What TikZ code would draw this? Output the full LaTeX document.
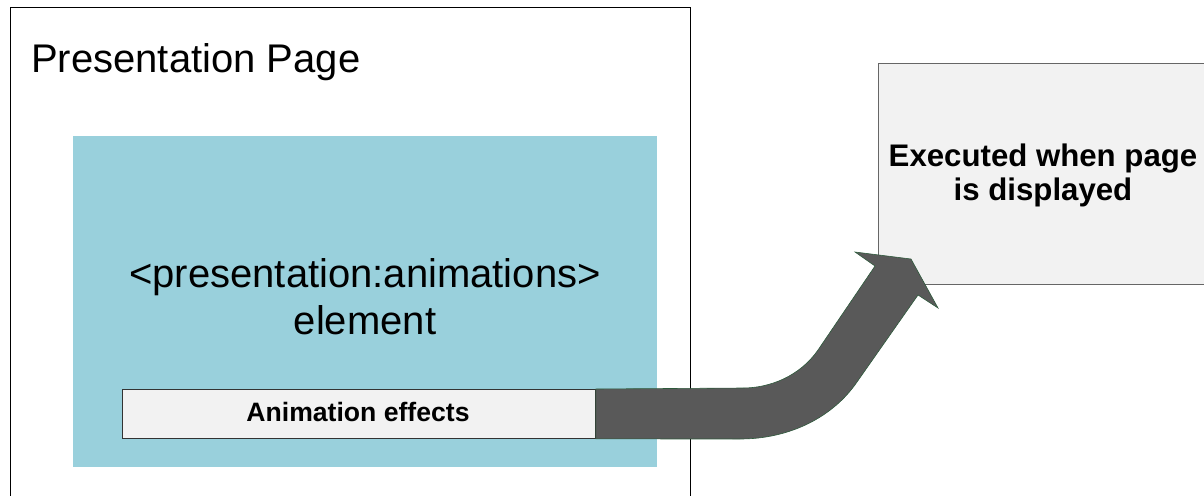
\documentclass[tikz,border=0pt]{standalone}
\usepackage{fontspec}
\setmainfont{Liberation Sans}
\definecolor{teal1}{HTML}{99D0DC}
\definecolor{boxgray}{HTML}{F2F2F2}
\definecolor{arrowgray}{HTML}{595959}
\definecolor{arrowedge}{HTML}{2E5A3C}
\tikzset{
  plain/.style={draw=black, line width=0.8pt},
  graybox/.style={fill=boxgray, draw=#1, line width=0.9pt},
  bigtxt/.style={font=\fontsize{40}{46}\selectfont, inner sep=0pt},
  midtxt/.style={font=\fontsize{31.2}{34}\selectfont\bfseries, inner sep=0pt},
  smalltxt/.style={font=\fontsize{26.6}{30}\selectfont\bfseries, inner sep=0pt},
  bigarrow/.style={fill=arrowgray, draw=arrowedge, line width=0.6pt},
}
\begin{document}
\begin{tikzpicture}[x=1pt,y=-1pt]
\useasboundingbox (0,0) rectangle (1204,495);
% outer page
\draw[plain] (10,520) -- (10,7) -- (690,7) -- (690,520);
\node[bigtxt, anchor=base west] (title) at (31,73) {Presentation Page};
% teal element box
\fill[teal1] (73,136) rectangle (657,467);
\node[bigtxt, anchor=base] (el1) at (365,287) {<presentation:animations>};
\node[bigtxt, anchor=base] (el2) at (365,334) {element};
% animation effects box
\node[graybox=black!80, minimum width=473pt, minimum height=49pt, inner sep=0pt, anchor=north west] (anim) at (122,389) {};
\node[smalltxt, anchor=base] (animtxt) at (358,421) {Animation effects};
% right box
\draw[graybox=black!60] (878,63) rectangle (1230,284);
\node[midtxt, anchor=base] (ex1) at (1043,166) {Executed when page};
\node[midtxt, anchor=base] (ex2) at (1043,200) {is displayed};
% big arrow
\draw[bigarrow] (anim.north east) -- (743,388)
  .. controls (770,388) and (800,376) .. (818,350)
  -- (875,266) -- (855,252) -- (911,259) -- (938,308) -- (918,295)
  -- (857,382)
  .. controls (833,417) and (790,439) .. (740,439)
  -- (anim.south east) -- cycle;
\end{tikzpicture}
\end{document}
